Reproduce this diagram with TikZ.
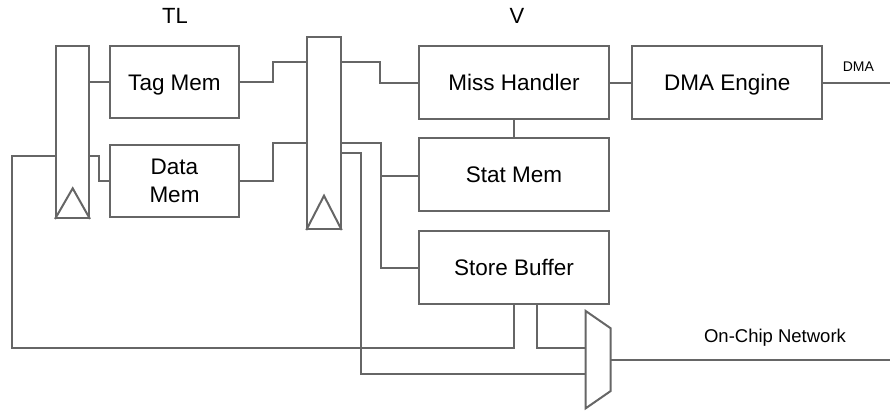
\documentclass[tikz,border=0pt]{standalone}
\usepackage{fontspec}
\setmainfont{Liberation Sans}
\usetikzlibrary{calc}
\definecolor{wire}{HTML}{666666}
\tikzset{
  x=1pt, y=-1pt,
  wireline/.style={draw=wire, line width=2pt},
  block/.style={draw=wire, line width=2pt, rectangle, inner sep=0pt,
                font=\fontsize{22.5}{28}\selectfont, align=center},
  oneline/.style={text height=16.1pt, text depth=0pt},
  regbox/.style={draw=wire, line width=2pt, rectangle, inner sep=0pt},
  caption/.style={inner sep=0pt, font=\fontsize{22}{26}\selectfont},
}
\begin{document}
\begin{tikzpicture}
\useasboundingbox (0,0) rectangle (890,410);

% pipeline registers
\node[regbox, minimum width=33pt, minimum height=172pt] (reg1) at (72.5,132) {};
\node[regbox, minimum width=33.4pt, minimum height=191.7pt] (reg2) at (324,133.2) {};
\draw[wireline, line join=miter] (reg1.south west) -- (72.7,188.3) -- (reg1.south east);
\draw[wireline, line join=miter] (reg2.south west) -- (324,195.7) -- (reg2.south east);

% memories and units
\node[block, oneline, minimum width=129pt, minimum height=72pt] (tag)  at (174.5,82)  {Tag Mem};
\node[block, minimum width=129pt, minimum height=72pt] (data) at (174.5,181) {Data\\Mem};
\node[block, oneline, minimum width=190pt, minimum height=73pt] (miss) at (514,82.5)  {Miss Handler};
\node[block, oneline, minimum width=190pt, minimum height=73pt] (stat) at (514,174.7) {Stat Mem};
\node[block, oneline, minimum width=190pt, minimum height=73pt] (sbuf) at (514,267.5) {Store Buffer};
\node[block, oneline, minimum width=190pt, minimum height=73pt] (dma)  at (727.3,82.5) {DMA Engine};

% stage titles
\node[caption] (tl) at (175,16) {TL};
\node[caption] (v)  at (517,16) {V};

% output multiplexer
\coordinate (muxA) at (585.7,311);
\coordinate (muxB) at (610.7,328.3);
\coordinate (muxC) at (610.7,391);
\coordinate (muxD) at (585.7,408.3);
\coordinate (muxout) at (610.7,360);
\draw[wireline, line join=miter] (muxA) -- (muxB) -- (muxC) -- (muxD) -- cycle;

% outgoing ports
\coordinate (dmaport) at (890,82.5);
\coordinate (nocport) at (890,360);
\node[inner sep=0pt, font=\fontsize{14}{16}\selectfont] (dmalbl) at (858.3,66.7) {DMA};
\node[inner sep=0pt, font=\fontsize{18.5}{22}\selectfont] (noclbl) at (775,337.3) {On-Chip Network};

% stage TL wiring
\draw[wireline] (reg1.east |- tag.west) -- (tag.west);
\draw[wireline] (reg1.east |- 0,155.7) -- (99.3,155.7) |- (data.west);
\draw[wireline] (tag.east) -- (273.3,82) |- (reg2.west |- 0,62.3);
\draw[wireline] (data.east) -- (273.3,181) |- (reg2.west |- 0,142.7);

% stage V wiring
\draw[wireline] (reg2.east |- 0,62.3) -- (380.3,62.3) |- (miss.west);
\draw[wireline] (reg2.east |- 0,143) -- (380.7,143) |- (sbuf.west);
\draw[wireline] (380.7,175.7) -- (stat.west |- 0,175.7);
\draw[wireline] (reg2.east |- 0,152.5) -- (360.7,152.5) |- (muxA |- 0,374.3);
\draw[wireline] (miss.south) -- (stat.north);
\draw[wireline] (miss.east) -- (dma.west);
\draw[wireline] (dma.east) -- (dmaport);

% store buffer outputs: feedback loop and merge into the network mux
\draw[wireline] (sbuf.south) -- (514,348) -| (12.3,155.7) -- (reg1.west |- 0,155.7);
\draw[wireline] (536.7,304) -- (536.7,348) -- (muxA |- 0,348);
\draw[wireline] (muxout) -- (nocport);
\end{tikzpicture}
\end{document}
